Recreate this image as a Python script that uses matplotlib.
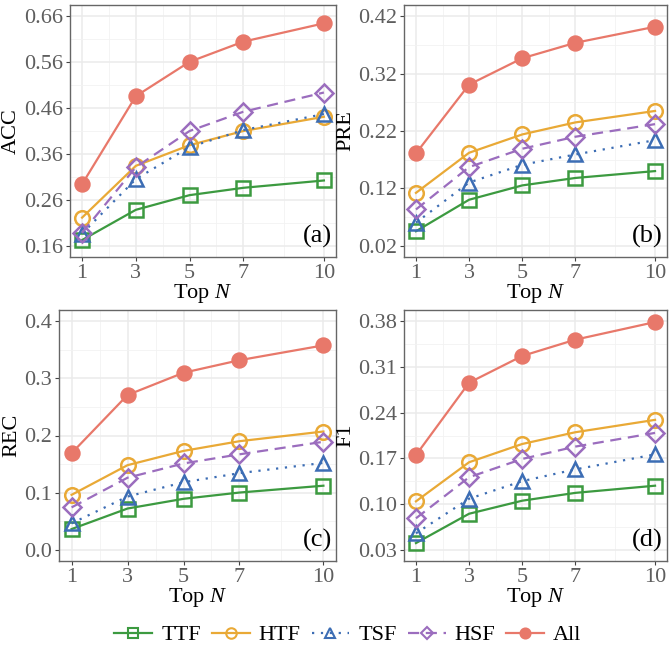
import numpy as np
import matplotlib.pyplot as plt
from matplotlib.lines import Line2D

plt.rcParams["font.family"] = ["Liberation Serif", "DejaVu Serif"]
plt.rcParams["mathtext.fontset"] = "custom"
plt.rcParams["mathtext.it"] = "Liberation Serif:italic"
plt.rcParams["mathtext.rm"] = "Liberation Serif"

# Data
top_n = [1, 3, 5, 7, 10]
methods = ["TTF", "HTF", "TSF", "HSF", "All"]

acc = {
    "TTF": [0.172, 0.238, 0.270, 0.286, 0.302],
    "HTF": [0.221, 0.334, 0.379, 0.410, 0.441],
    "TSF": [0.186, 0.305, 0.375, 0.412, 0.447],
    "HSF": [0.188, 0.331, 0.410, 0.452, 0.494],
    "All": [0.294, 0.486, 0.561, 0.605, 0.645],
}
pre = {
    "TTF": [0.045, 0.100, 0.125, 0.138, 0.150],
    "HTF": [0.112, 0.182, 0.214, 0.235, 0.255],
    "TSF": [0.060, 0.130, 0.161, 0.179, 0.204],
    "HSF": [0.083, 0.157, 0.189, 0.210, 0.232],
    "All": [0.181, 0.301, 0.347, 0.374, 0.402],
}
rec = {
    "TTF": [0.036, 0.072, 0.089, 0.100, 0.112],
    "HTF": [0.096, 0.148, 0.173, 0.190, 0.207],
    "TSF": [0.046, 0.093, 0.118, 0.134, 0.152],
    "HSF": [0.074, 0.126, 0.151, 0.167, 0.189],
    "All": [0.169, 0.271, 0.310, 0.332, 0.358],
}
f1 = {
    "TTF": [0.040, 0.085, 0.105, 0.117, 0.128],
    "HTF": [0.104, 0.164, 0.192, 0.210, 0.229],
    "TSF": [0.055, 0.108, 0.135, 0.153, 0.176],
    "HSF": [0.078, 0.141, 0.169, 0.188, 0.209],
    "All": [0.175, 0.286, 0.327, 0.352, 0.379],
}

panels = [
    ("ACC", acc, [0.16, 0.26, 0.36, 0.46, 0.56, 0.66], ["0.16", "0.26", "0.36", "0.46", "0.56", "0.66"], "(a)"),
    ("PRE", pre, [0.02, 0.12, 0.22, 0.32, 0.42], ["0.02", "0.12", "0.22", "0.32", "0.42"], "(b)"),
    ("REC", rec, [0.0, 0.1, 0.2, 0.3, 0.4], ["0.0", "0.1", "0.2", "0.3", "0.4"], "(c)"),
    ("F1", f1, [0.03, 0.10, 0.17, 0.24, 0.31, 0.38], ["0.03", "0.10", "0.17", "0.24", "0.31", "0.38"], "(d)"),
]

styles = {
    "TTF": dict(color="#3C9A40", marker="s", ls="-", mfc="none"),
    "HTF": dict(color="#E9A936", marker="o", ls="-", mfc="none"),
    "TSF": dict(color="#3C6DB4", marker="^", ls=(0, (1, 3)), mfc="none"),
    "HSF": dict(color="#9B6DBE", marker="D", ls=(0, (5, 3)), mfc="none"),
    "All": dict(color="#E8786A", marker="o", ls="-", mfc="#E8786A"),
}
msizes = {"TTF": 10, "HTF": 10.5, "TSF": 10.5, "HSF": 9, "All": 10}

positions = [
    [70 / 669, 1 - 257 / 650, 266 / 669, 252 / 650],
    [404 / 669, 1 - 257 / 650, 263 / 669, 252 / 650],
    [59 / 669, 1 - 561 / 650, 277 / 669, 251 / 650],
    [404 / 669, 1 - 561 / 650, 263 / 669, 251 / 650],
]

fig = plt.figure(figsize=(6.69, 6.5), dpi=100)
grey_text = "#5E5E5E"

for pos, (ylabel, data, yticks, ylabels, tag) in zip(positions, panels):
    ax = fig.add_axes(pos)
    for m in methods:
        st = styles[m]
        ax.plot(top_n, data[m], color=st["color"], ls=st["ls"], lw=1.6,
                marker=st["marker"], ms=msizes[m], mfc=st["mfc"],
                mec=st["color"], mew=1.8, zorder=3)
    span = yticks[-1] - yticks[0]
    ax.set_ylim(yticks[0] - 0.05 * span, yticks[-1] + 0.05 * span)
    ax.set_xlim(0.55, 10.45)
    ax.set_xticks(top_n)
    ax.set_xticks([2, 4, 6, 8.5], minor=True)
    ax.set_yticks(yticks)
    ax.set_yticklabels(ylabels)
    step = yticks[1] - yticks[0]
    ax.set_yticks(np.array(yticks[:-1]) + step / 2, minor=True)
    ax.grid(which="major", color="#EBEBEB", lw=1.1, zorder=0)
    ax.grid(which="minor", color="#F2F2F2", lw=0.6, zorder=0)
    ax.set_axisbelow(True)
    ax.tick_params(which="major", labelsize=16, labelcolor=grey_text,
                   color="#444444", length=3, width=0.8, pad=2)
    ax.tick_params(which="minor", length=0)
    for s in ax.spines.values():
        s.set_color("#666666")
        s.set_linewidth(1.0)
    ax.set_ylabel(ylabel, fontsize=16, labelpad=2)
    ax.set_xlabel("Top $\\mathit{N}$", fontsize=16, labelpad=-1)
    ax.text(0.985, 0.035, tag, transform=ax.transAxes, ha="right",
            va="bottom", fontsize=19)

handles = []
for m in methods:
    st = styles[m]
    handles.append(Line2D([], [], color=st["color"], ls=st["ls"], lw=1.6,
                          marker=st["marker"], ms=msizes[m] * 0.72,
                          mfc=st["mfc"], mec=st["color"], mew=1.5))
fig.legend(handles, methods, loc="center", bbox_to_anchor=(0.52, 0.023),
           ncol=5, frameon=False, fontsize=16, handlelength=1.7,
           handletextpad=0.4, columnspacing=0.5)

fig.savefig("out.png", dpi=100)
